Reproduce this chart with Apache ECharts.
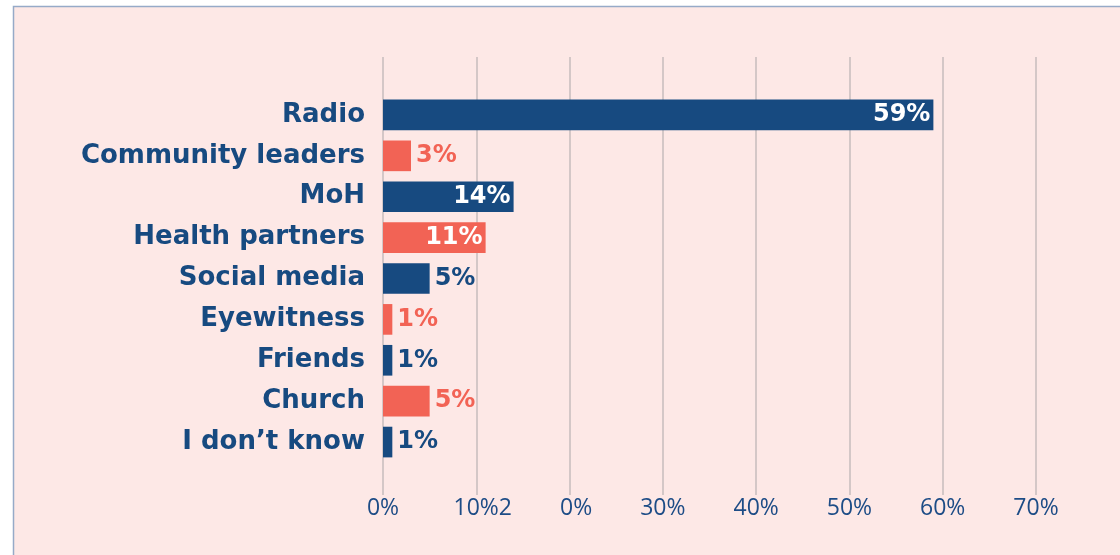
<!DOCTYPE html>
<html><head><meta charset="utf-8">
<script src="https://cdn.jsdelivr.net/npm/echarts@6/dist/echarts.min.js"></script>
<style>html,body{margin:0;padding:0;background:#fff}#c{width:1120px;height:555px}</style>
</head><body><div id="c"></div>
<script>
const categories = ["Radio","Community leaders","MoH","Health partners","Social media","Eyewitness","Friends","Church","I don\u2019t know"];
const values = [59,3,14,11,5,1,1,5,1];
const barColors = ["#174a80","#f26355","#174a80","#f26355","#174a80","#f26355","#174a80","#f26355","#174a80"];
const labelInside = [true,false,true,true,false,false,false,false,false];
const tickLabels = ["0%","10%2","0%","30%","40%","50%","60%","70%"];

const NAVY = "#174a80";
const chart = echarts.init(document.getElementById('c'), null, {renderer:'canvas'});
const gl = 383, gw = 653;
const tickFont = {color: '#1d4c86', fontFamily: 'Open Sans', fontWeight: 'normal', fontSize: 23};
chart.setOption({
  backgroundColor: '#ffffff',
  animation: false,
  graphic: [{
    type: 'rect', z: -10, silent: true,
    shape: {x: 13.5, y: 6.5, width: 1120, height: 560},
    style: {fill: '#fde8e6', stroke: '#96aac8', lineWidth: 1.5}
  }],
  grid: [
    {left: gl, width: gw, top: 57, bottom: 60, containLabel: false},
    {left: gl, width: gw, top: 94.5, height: 368, containLabel: false}
  ],
  xAxis: [
    {gridIndex: 0, type: 'value', min: 0, max: 70, interval: 10,
     axisLine: {show: false}, axisTick: {show: false},
     splitLine: {show: true, lineStyle: {color: '#c6bcbc', width: 1.5}},
     axisLabel: Object.assign({margin: 2,
       formatter: (v) => {
         const i = Math.round(v/10);
         return (i === 1 || i === 2) ? '{s|' + tickLabels[i] + '}' : tickLabels[i];
       },
       rich: {s: Object.assign({padding: [0, 0, 0, 13]}, tickFont)}}, tickFont)},
    {gridIndex: 1, type: 'value', min: 0, max: 70, show: false}
  ],
  yAxis: [
    {gridIndex: 0, type: 'category', data: categories, show: false},
    {gridIndex: 1, type: 'category', data: categories, inverse: true,
     axisLine: {show: false}, axisTick: {show: false}, splitLine: {show: false},
     axisLabel: {margin: 18, color: NAVY, fontFamily: 'DejaVu Sans', fontWeight: 'bold', fontSize: 26}}
  ],
  series: [{
    type: 'bar', xAxisIndex: 1, yAxisIndex: 1, barWidth: '75%',
    data: values.map((v, i) => ({
      value: v,
      itemStyle: {color: barColors[i]},
      label: {
        show: true,
        position: labelInside[i] ? 'insideRight' : 'right',
        distance: labelInside[i] ? 3 : 5,
        formatter: '{c}%',
        color: labelInside[i] ? '#ffffff' : barColors[i],
        fontFamily: 'DejaVu Sans', fontWeight: 'bold', fontSize: 24
      }
    }))
  }]
});
</script></body></html>
